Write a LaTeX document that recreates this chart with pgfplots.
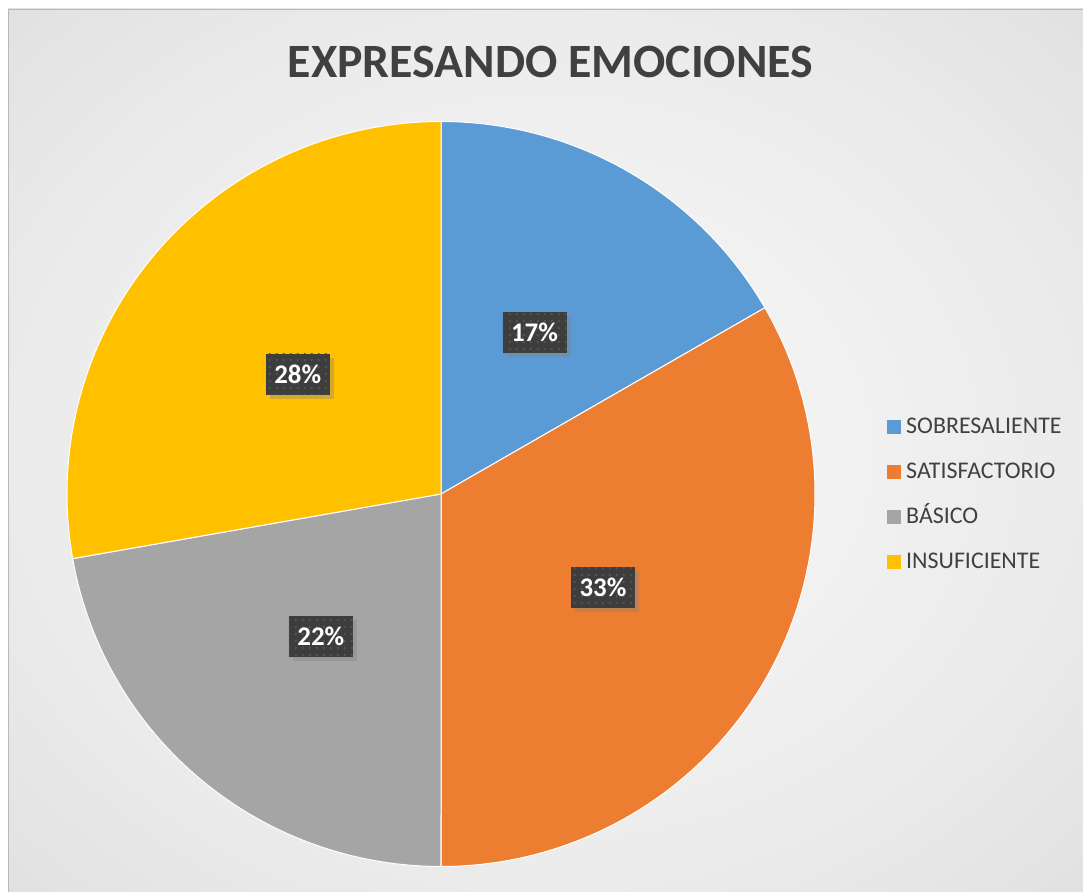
\documentclass[border=0pt]{standalone}
\usepackage{pgfplots}
\usepackage{pgfplotstable}
\pgfplotsset{compat=1.18}
\usepackage{fontspec}
\setmainfont{Carlito}
\usetikzlibrary{shadows,patterns.meta}
\definecolor{cA}{HTML}{5B9BD5}
\definecolor{cB}{HTML}{ED7D31}
\definecolor{cC}{HTML}{A5A5A5}
\definecolor{cD}{HTML}{FFC000}
\definecolor{txt}{HTML}{404040}
\definecolor{boxc}{HTML}{3D3D3D}
\definecolor{dotc}{HTML}{555555}
\pgfdeclareradialshading{bgshade}{\pgfpoint{0bp}{0bp}}{color(0bp)=(white!98!black); color(25bp)=(white!92!black); color(50bp)=(white!83!black); color(71bp)=(white!76!black)}
\tikzdeclarepattern{name=boxdots, type=uncolored,
  bounding box={(0bp,0bp) and (6.5bp,6.5bp)}, tile size={(6.5bp,6.5bp)},
  code={\pgfpathrectangle{\pgfpoint{2bp}{2bp}}{\pgfpoint{2bp}{2bp}}\pgfusepath{fill}}}
\tikzset{label box/.style={fill=boxc, text=white, font=\fontsize{27}{32}\selectfont\bfseries,
    minimum width=64bp, minimum height=41bp, inner sep=0pt,
    preaction={drop shadow={shadow xshift=4bp, shadow yshift=-4bp, opacity=0.35}},
    postaction={pattern=boxdots, pattern color=dotc}}}

\pgfplotstableread{
idx value
0 3
1 6
2 4
3 5
}\piedata

\pgfplotstablegetelem{0}{value}\of\piedata \let\vA\pgfplotsretval
\pgfplotstablegetelem{1}{value}\of\piedata \let\vB\pgfplotsretval
\pgfplotstablegetelem{2}{value}\of\piedata \let\vC\pgfplotsretval
\pgfplotstablegetelem{3}{value}\of\piedata \let\vD\pgfplotsretval
\pgfmathsetmacro\tot{\vA+\vB+\vC+\vD}
\pgfmathsetmacro\aA{90}
\pgfmathsetmacro\aB{\aA-360*\vA/\tot}
\pgfmathsetmacro\aC{\aB-360*\vB/\tot}
\pgfmathsetmacro\aD{\aC-360*\vC/\tot}
\pgfmathsetmacro\aE{\aD-360*\vD/\tot}
\pgfmathsetmacro\mA{(\aA+\aB)/2}
\pgfmathsetmacro\mB{(\aB+\aC)/2}
\pgfmathsetmacro\mC{(\aC+\aD)/2}
\pgfmathsetmacro\mD{(\aD+\aE)/2}
\pgfmathtruncatemacro\pA{round(100*\vA/\tot)}
\pgfmathtruncatemacro\pB{round(100*\vB/\tot)}
\pgfmathtruncatemacro\pC{round(100*\vC/\tot)}
\pgfmathtruncatemacro\pD{round(100*\vD/\tot)}

\begin{document}
\begin{tikzpicture}[x=1bp,y=1bp]
\useasboundingbox (0,0) rectangle (1083,892);
\fill[white] (0,0) rectangle (1083,892);
\shade[shading=bgshade] (8,0) rectangle (1083,883);
\draw[gray!55, line width=1bp] (8.5,0) -- (8.5,882.5) -- (1083,882.5);

\node[anchor=base, text=txt, font=\fontsize{48}{56}\selectfont\bfseries] at (550.5,814) {EXPRESANDO EMOCIONES};

\begin{axis}[
  hide axis, scale only axis, clip=false,
  width=748bp, height=745bp,
  xmin=-1, xmax=1, ymin=-1, ymax=1,
  at={(441bp,398bp)}, anchor=center,
]
\addplot[fill=cA, draw=white, line width=1bp, domain=\aB:\aA, samples=80, variable=\t] ({cos(\t)},{sin(\t)}) -- (axis cs:0,0) -- cycle;
\addplot[fill=cB, draw=white, line width=1bp, domain=\aC:\aB, samples=120, variable=\t] ({cos(\t)},{sin(\t)}) -- (axis cs:0,0) -- cycle;
\addplot[fill=cC, draw=white, line width=1bp, domain=\aD:\aC, samples=100, variable=\t] ({cos(\t)},{sin(\t)}) -- (axis cs:0,0) -- cycle;
\addplot[fill=cD, draw=white, line width=1bp, domain=\aE:\aD, samples=100, variable=\t] ({cos(\t)},{sin(\t)}) -- (axis cs:0,0) -- cycle;
\node[label box] at (axis cs:{0.5*cos(\mA)},{0.5*sin(\mA)}) {\pA\%};
\node[label box] at (axis cs:{0.5*cos(\mB)},{0.5*sin(\mB)}) {\pB\%};
\node[label box] at (axis cs:{0.5*cos(\mC)},{0.5*sin(\mC)}) {\pC\%};
\node[label box] at (axis cs:{0.5*cos(\mD)},{0.5*sin(\mD)}) {\pD\%};
\end{axis}

\foreach \c/\t [count=\i from 0] in {cA/SOBRESALIENTE, cB/SATISFACTORIO, cC/BÁSICO, cD/INSUFICIENTE}{
  \fill[\c] (887,{458-45*\i}) rectangle (901,{472-45*\i});
  \node[anchor=base west, inner sep=0pt, text=txt, font=\fontsize{24}{28}\selectfont] at (906,{458-45*\i}) {\t};
}
\end{tikzpicture}
\end{document}
